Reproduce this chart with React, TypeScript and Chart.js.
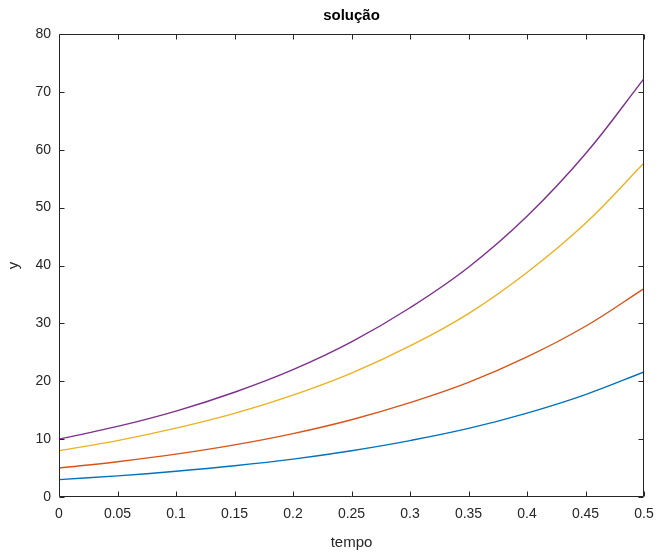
import React, { useEffect, useRef } from "react";
import { Chart, registerables } from "chart.js";

Chart.register(...registerables);

const tempo = [0, 0.05, 0.1, 0.15, 0.2, 0.25, 0.3, 0.35, 0.4, 0.45, 0.5];
const serie1 = [3.0, 3.65, 4.45, 5.4, 6.55, 8.0, 9.75, 11.85, 14.5, 17.7, 21.6];
const serie2 = [5.0, 6.1, 7.4, 9.0, 10.95, 13.35, 16.3, 19.8, 24.2, 29.5, 36.0];
const serie3 = [8.0, 9.75, 11.9, 14.45, 17.6, 21.4, 26.1, 31.7, 38.8, 47.3, 57.7];
const serie4 = [10.0, 12.2, 14.85, 18.1, 22.0, 26.8, 32.7, 39.7, 48.5, 59.3, 72.3];
const seriesColors = ["#0072BD", "#D95319", "#EDB120", "#7E2F8E"];
const titleText = "solução";
const xLabel = "tempo";
const yLabel = "y";

const AXIS = "#262626";
const FONT = "'Liberation Sans', Arial, Helvetica, sans-serif";

const boxPlugin = {
  id: "matlabBox",
  afterDraw(chart: any) {
    const { ctx, chartArea } = chart;
    const { left, right, top, bottom } = chartArea;
    const L = Math.round(left) + 0.5;
    const R = Math.round(right) - 0.5;
    const T = Math.round(top) + 0.5;
    const B = Math.round(bottom) - 0.5;
    ctx.save();
    ctx.strokeStyle = AXIS;
    ctx.lineWidth = 1;
    ctx.beginPath();
    ctx.rect(L, T, R - L, B - T);
    const tl = 5;
    const xs = chart.scales.x;
    xs.ticks.forEach((t: any) => {
      const px = Math.round(xs.getPixelForValue(t.value)) + 0.5;
      ctx.moveTo(px, B);
      ctx.lineTo(px, B - tl);
      ctx.moveTo(px, T);
      ctx.lineTo(px, T + tl);
    });
    const ys = chart.scales.y;
    ys.ticks.forEach((t: any) => {
      const py = Math.round(ys.getPixelForValue(t.value)) + 0.5;
      ctx.moveTo(L, py);
      ctx.lineTo(L + tl, py);
      ctx.moveTo(R, py);
      ctx.lineTo(R - tl, py);
    });
    ctx.stroke();
    ctx.restore();
  },
};

export default function App() {
  const ref = useRef<HTMLCanvasElement | null>(null);

  useEffect(() => {
    document.body.style.margin = "0";
    const canvas = ref.current;
    if (!canvas) return;
    const mk = (data: number[], color: string) => ({
      data: tempo.map((t, i) => ({ x: t, y: data[i] })),
      borderColor: color,
      backgroundColor: color,
      borderWidth: 1.4,
      pointRadius: 0,
      tension: 0.4,
      fill: false,
    });
    const chart = new Chart(canvas, {
      type: "line",
      data: {
        datasets: [
          mk(serie1, seriesColors[0]),
          mk(serie2, seriesColors[1]),
          mk(serie3, seriesColors[2]),
          mk(serie4, seriesColors[3]),
        ],
      },
      plugins: [boxPlugin],
      options: {
        responsive: false,
        animation: false,
        layout: { padding: { left: 0, right: 15, top: 0, bottom: 0 } },
        plugins: {
          legend: { display: false },
          tooltip: { enabled: false },
          title: {
            display: true,
            text: titleText,
            fullSize: false,
            color: "#000",
            font: { family: FONT, size: 15, weight: "bold", lineHeight: 1.2 },
            padding: { top: 7, bottom: 9 },
          },
        },
        scales: {
          x: {
            type: "linear",
            min: 0,
            max: 0.5,
            afterFit: (s: any) => {
              s.height = 57;
              s.paddingLeft = 0;
              s.paddingRight = 0;
            },
            afterBuildTicks: (s: any) => {
              s.ticks = tempo.map((v) => ({ value: v }));
            },
            ticks: {
              color: AXIS,
              padding: 9,
              maxRotation: 0,
              autoSkip: false,
              font: { family: FONT, size: 14 },
              callback: (v: any) => String(+Number(v).toFixed(2)),
            },
            grid: { display: false, drawTicks: false },
            border: { display: false },
            title: {
              display: true,
              text: xLabel,
              color: AXIS,
              font: { family: FONT, size: 15, lineHeight: 1.2 },
              padding: { top: 0, bottom: 2 },
            },
          },
          y: {
            type: "linear",
            min: 0,
            max: 80,
            afterFit: (s: any) => {
              s.width = 59;
              s.paddingTop = 0;
              s.paddingBottom = 0;
            },
            ticks: {
              stepSize: 10,
              color: AXIS,
              padding: 8,
              font: { family: FONT, size: 14 },
            },
            grid: { display: false, drawTicks: false },
            border: { display: false },
            title: {
              display: true,
              text: yLabel,
              color: AXIS,
              font: { family: FONT, size: 15, lineHeight: 1.2 },
              padding: { top: 5, bottom: 0 },
            },
          },
        },
      },
    });
    return () => chart.destroy();
  }, []);

  return (
    <div style={{ width: 659, height: 554 }}>
      <canvas ref={ref} width={659} height={554} style={{ display: "block" }} />
    </div>
  );
}
